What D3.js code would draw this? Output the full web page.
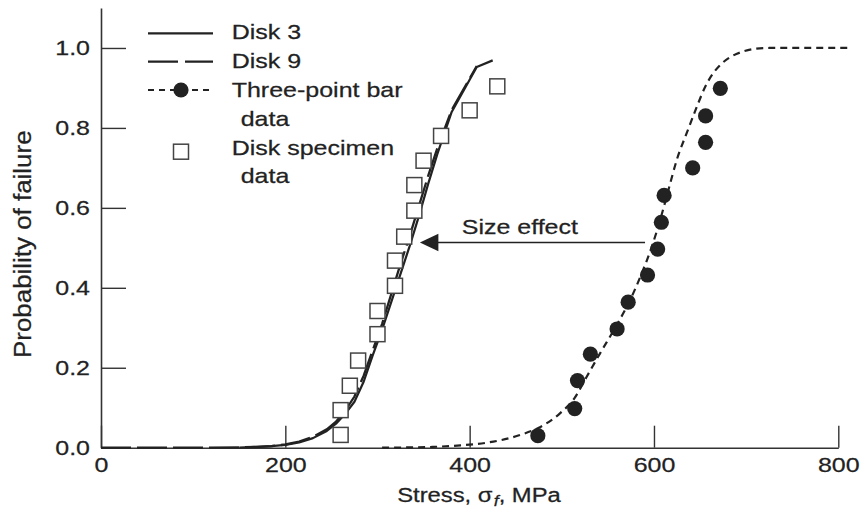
<!DOCTYPE html>
<html>
<head>
<meta charset="utf-8">
<script src="https://cdn.jsdelivr.net/npm/d3@7"></script>
<style>
  body { margin: 0; background: #fff; }
  svg text { font-family: "Liberation Sans", Arial, Helvetica, sans-serif; fill: #222; stroke: #222; stroke-width: 0.25px; }
</style>
</head>
<body>
<svg id="chart" width="868" height="508"></svg>
<script>
// Weibull fits for the disk specimens: stress (MPa) vs probability of failure
const disk3Stress = [150, 170, 185, 200, 215, 230, 245, 255, 265, 275, 285, 295, 305, 315, 325, 335, 345, 355, 365, 380.5, 407.7, 425];
const disk3Prob   = [0, 0.002, 0.004, 0.007, 0.013, 0.024, 0.042, 0.06, 0.085, 0.115, 0.165, 0.232, 0.295, 0.365, 0.435, 0.505, 0.58, 0.66, 0.735, 0.84, 0.9525, 0.969];

const disk9Stress = [0, 100, 150, 170, 185, 200, 215, 230, 245, 255, 265, 275, 285, 295, 305, 315, 325, 335, 345, 355, 365, 380.5, 407.7];
const disk9Prob   = [0, 0, 0.001, 0.002, 0.004, 0.008, 0.015, 0.027, 0.046, 0.065, 0.093, 0.128, 0.18, 0.245, 0.31, 0.385, 0.46, 0.53, 0.605, 0.68, 0.75, 0.845, 0.955];

// Fit for the three-point bend bars
const barFitStress = [305, 360, 390, 420, 455, 475, 498, 513.6, 527, 541.5, 559.6, 574, 586.7, 597.6, 606.6, 615.6, 624.6, 636, 646, 656, 664, 673, 682, 695, 710, 725, 810];
const barFitProb   = [0, 0.002, 0.006, 0.013, 0.032, 0.05, 0.086, 0.1235, 0.1775, 0.236, 0.307, 0.369, 0.436, 0.5025, 0.569, 0.644, 0.719, 0.79, 0.85, 0.905, 0.936, 0.96, 0.976, 0.99, 0.998, 1, 1];

// Measured strengths
const barStress  = [474, 514, 517, 531, 560, 572, 593, 604, 608, 611, 642, 656, 656, 672];
const barProb    = [0.03, 0.098, 0.168, 0.234, 0.297, 0.364, 0.432, 0.497, 0.564, 0.631, 0.70, 0.764, 0.83, 0.899];

const diskStress = [260, 260, 270, 279, 300, 300, 319, 319, 329, 340, 340, 350, 369, 400, 430];
const diskProb   = [0.032, 0.094, 0.155, 0.218, 0.284, 0.342, 0.405, 0.468, 0.528, 0.593, 0.657, 0.718, 0.78, 0.844, 0.904];

const xTicks = [0, 200, 400, 600, 800];
const yTicks = [0, 0.2, 0.4, 0.6, 0.8, 1.0];
const yTickLabels = ["0.0", "0.2", "0.4", "0.6", "0.8", "1.0"];

// Size-effect annotation, in data units
const sizeArrow = { fromStress: 590.3, toStress: 346, prob: 0.5135 };

const legendItems = ["Disk 3", "Disk 9", "Three-point bar", "data", "Disk specimen", "data"];

const SX = 1.19;          // horizontal stretch of the lettering
const FS = 21;            // base font size
const ink = "#222";

const svg = d3.select("#chart");
const x = d3.scaleLinear().domain([0, 800]).range([101, 838.3]);
const y = d3.scaleLinear().domain([0, 1.1]).range([447.7, 8]);

const zip = (a, b) => a.map((v, i) => [v, b[i]]);

// Axes, ticks pointing into the plot
const xAxis = d3.axisBottom(x).tickValues(xTicks).tickFormat(d3.format("d"))
  .tickSizeInner(-22).tickSizeOuter(0).tickPadding(10);
const gx = svg.append("g").attr("transform", `translate(0,${y(0)})`).call(xAxis);

const yAxis = d3.axisLeft(y).tickValues(yTicks).tickFormat((d, i) => yTickLabels[i])
  .tickSizeInner(-25).tickSizeOuter(0).tickPadding(3);
const gy = svg.append("g").attr("transform", `translate(${x(0)},0)`).call(yAxis);

[gx, gy].forEach(g => {
  g.select(".domain").attr("stroke", "#333").attr("stroke-width", 1.6);
  g.selectAll(".tick line").attr("stroke", "#333").attr("stroke-width", 1.4);
  g.selectAll(".tick text").attr("font-size", FS).attr("fill", ink)
    .style("font-family", '"Liberation Sans", Arial, sans-serif');
});
gx.selectAll(".tick text").attr("dy", "0.68em").attr("transform", `scale(${SX},1)`);
gy.selectAll(".tick text").attr("x", -11 / SX).attr("transform", `scale(${SX},1)`);

// Fitted curves
const smooth = d3.line().x(d => x(d[0])).y(d => y(d[1])).curve(d3.curveMonotoneX);
const straight = d3.line().x(d => x(d[0])).y(d => y(d[1]));

svg.append("path").datum(zip(disk9Stress, disk9Prob)).attr("d", straight)
  .attr("fill", "none").attr("stroke", ink).attr("stroke-width", 2.3).attr("stroke-dasharray", "30,6");
svg.append("path").datum(zip(disk3Stress, disk3Prob)).attr("d", straight)
  .attr("fill", "none").attr("stroke", ink).attr("stroke-width", 2.2).attr("stroke-linejoin", "round");
svg.append("path").datum(zip(barFitStress, barFitProb)).attr("d", smooth)
  .attr("fill", "none").attr("stroke", ink).attr("stroke-width", 2.2).attr("stroke-dasharray", "7,5");

// Disk specimen data: open squares
const sq = 15;
svg.append("g").selectAll("rect").data(zip(diskStress, diskProb)).join("rect")
  .attr("x", d => x(d[0]) - sq / 2).attr("y", d => y(d[1]) - sq / 2)
  .attr("width", sq).attr("height", sq)
  .attr("fill", "#fff").attr("stroke", "#444").attr("stroke-width", 1.5);

// Three-point bar data: filled circles
svg.append("g").selectAll("circle").data(zip(barStress, barProb)).join("circle")
  .attr("cx", d => x(d[0])).attr("cy", d => y(d[1])).attr("r", 7.6).attr("fill", ink);

// Size-effect arrow
const ay = y(sizeArrow.prob);
const tipX = x(sizeArrow.toStress);
svg.append("line").attr("x1", x(sizeArrow.fromStress)).attr("x2", tipX + 17).attr("y1", ay).attr("y2", ay)
  .attr("stroke", ink).attr("stroke-width", 1.5);
svg.append("path").attr("d", `M${tipX},${ay}L${tipX + 18.5},${ay - 8.8}L${tipX + 18.5},${ay + 8.8}Z`).attr("fill", ink);

function label(px, py, str, size = FS, anchor = "start") {
  return svg.append("text").attr("transform", `translate(${px},${py}) scale(${SX},1)`)
    .attr("font-size", size).attr("text-anchor", anchor).text(str);
}

label(x(391.4), y(0.534), "Size effect");

// Axis titles
const xt = svg.append("text").attr("transform", `translate(479,501.7) scale(${SX},1)`)
  .attr("font-size", 20).attr("text-anchor", "middle");
xt.append("tspan").text("Stress, σ");
xt.append("tspan").attr("font-size", 15).attr("font-style", "italic").attr("dy", 4).attr("dx", 1).text("f");
xt.append("tspan").attr("dy", -4).text(", MPa");

svg.append("text").attr("transform", "translate(31,358) rotate(-90) scale(1.08,1)")
  .attr("font-size", 24).attr("text-anchor", "start").text("Probability of failure");

// Legend
const lg = svg.append("g");
lg.append("line").attr("x1", 148).attr("x2", 213).attr("y1", 33.3).attr("y2", 33.3)
  .attr("stroke", ink).attr("stroke-width", 2.3);
lg.append("line").attr("x1", 148).attr("x2", 213).attr("y1", 61.7).attr("y2", 61.7)
  .attr("stroke", ink).attr("stroke-width", 2.3).attr("stroke-dasharray", "30,7");
lg.append("line").attr("x1", 148).attr("x2", 213).attr("y1", 90).attr("y2", 90)
  .attr("stroke", ink).attr("stroke-width", 2.2).attr("stroke-dasharray", "6,5");
lg.append("circle").attr("cx", 181).attr("cy", 90).attr("r", 7.6).attr("fill", ink);
lg.append("rect").attr("x", 181 - sq / 2).attr("y", 151.7 - sq / 2).attr("width", sq).attr("height", sq)
  .attr("fill", "#fff").attr("stroke", "#444").attr("stroke-width", 1.5);

const legendPos = [[231.7, 39], [231.7, 68], [231.7, 96.7], [240.7, 125.7], [231.7, 155], [240.7, 183.3]];
legendItems.forEach((t, i) => label(legendPos[i][0], legendPos[i][1], t));
</script>
</body>
</html>
